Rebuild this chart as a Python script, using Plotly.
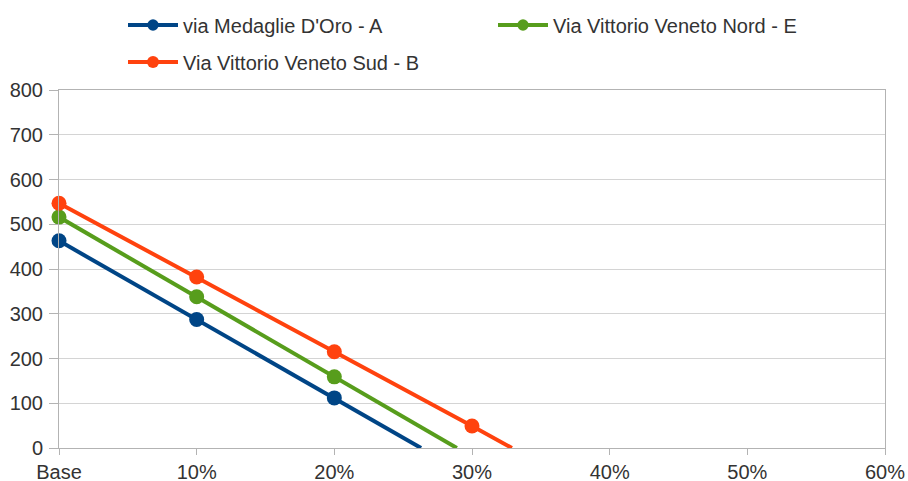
import plotly.graph_objects as go

tick_vals = [0, 10, 20, 30, 40, 50, 60]
tick_text = ["Base", "10%", "20%", "30%", "40%", "50%", "60%"]

names = ["via Medaglie D'Oro - A", "Via Vittorio Veneto Nord - E", "Via Vittorio Veneto Sud - B"]
colors = ["#004586", "#579d1c", "#ff420e"]

a_x = [0, 10, 20, 26.3]
a_y = [463, 287, 112, 0]
e_x = [0, 10, 20, 28.9]
e_y = [516, 338, 159, 0]
b_x = [0, 10, 20, 30, 32.9]
b_y = [547, 382, 215, 49, 0]

series = [(a_x, a_y), (e_x, e_y), (b_x, b_y)]
legend_ids = ["legend", "legend2", "legend3"]

fig = go.Figure()
for (xs, ys), name, col, lg in zip(series, names, colors, legend_ids):
    sizes = [15] * (len(xs) - 1) + [0]
    fig.add_trace(go.Scatter(
        x=xs, y=ys, name=name, mode="lines+markers", legend=lg,
        line=dict(color=col, width=4), cliponaxis=False,
        marker=dict(color=col, size=sizes, opacity=1, line=dict(width=0)),
    ))

leg_common = dict(orientation="h", xanchor="left", yanchor="middle",
                  xref="container", yref="container", itemwidth=50,
                  font=dict(size=20, color="#333333"), bgcolor="rgba(0,0,0,0)")

fig.update_layout(
    width=908, height=481,
    margin=dict(l=59, r=23, t=90, b=33, autoexpand=False),
    plot_bgcolor="white", paper_bgcolor="white",
    font=dict(family="Liberation Sans, Arial, sans-serif", size=20, color="#333333"),
    showlegend=True,
    legend=dict(x=123/908, y=1 - 25/481, **leg_common),
    legend2=dict(x=493/908, y=1 - 25/481, **leg_common),
    legend3=dict(x=123/908, y=1 - 62/481, **leg_common),
    xaxis=dict(range=[0, 60], tickvals=tick_vals, ticktext=tick_text,
               showgrid=False, zeroline=False, showline=True, linecolor="#b3b3b3",
               mirror=True, ticks="outside", ticklen=6, tickcolor="#b3b3b3",
               ticklabelstandoff=0,
               tickfont=dict(size=20, color="#333333")),
    yaxis=dict(range=[0, 800], dtick=100, showgrid=True, gridcolor="#d4d4d4",
               zeroline=False, showline=True, linecolor="#b3b3b3", mirror=True,
               ticks="outside", ticklen=9, tickcolor="#b3b3b3",
               ticklabelstandoff=2,
               tickfont=dict(size=20, color="#333333")),
)

fig.write_html("out.html", config={"displayModeBar": False},
               post_script="document.body.style.margin='0';")
